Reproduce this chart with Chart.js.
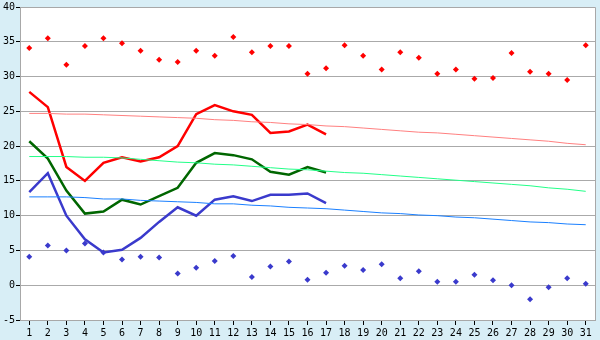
<!DOCTYPE html>
<html>
<head>
<meta charset="utf-8">
<script src="https://cdn.jsdelivr.net/npm/chart.js@4/dist/chart.umd.min.js"></script>
<style>
html,body{margin:0;padding:0;background:#d8eef6;}
#wrap{width:600px;height:340px;position:relative;}
</style>
</head>
<body>
<div id="wrap"><canvas id="c" width="600" height="340"></canvas></div>
<script>
const days = ["1","2","3","4","5","6","7","8","9","10","11","12","13","14","15","16","17","18","19","20","21","22","23","24","25","26","27","28","29","30","31"];
const yTicks = [-5,0,5,10,15,20,25,30,35,40];

const recordMax = [34.1,35.5,31.7,34.4,35.5,34.8,33.7,32.4,32.1,33.7,33.0,35.7,33.5,34.4,34.4,30.4,31.2,34.5,33.0,31.0,33.5,32.7,30.4,31.0,29.7,29.8,33.4,30.7,30.4,29.5,34.5];
const recordMin = [4.1,5.7,5.0,6.0,4.7,3.7,4.1,4.0,1.7,2.5,3.5,4.2,1.2,2.7,3.4,0.8,1.8,2.8,2.2,3.0,1.0,2.0,0.5,0.5,1.5,0.7,0.0,-2.0,-0.3,1.0,0.2];

const tMax = [27.8,25.6,17.0,15.0,17.6,18.4,17.8,18.4,20.0,24.6,25.9,25.0,24.5,21.9,22.1,23.1,21.7];
const tAvg = [20.7,18.2,13.6,10.3,10.6,12.3,11.6,12.8,14.0,17.6,19.0,18.7,18.1,16.3,15.9,17.0,16.2];
const tMin = [13.4,16.1,10.0,6.6,4.7,5.1,6.8,9.1,11.2,10.0,12.3,12.8,12.1,13.0,13.0,13.2,11.8];

const normMax = [24.7,24.7,24.6,24.6,24.5,24.4,24.3,24.2,24.1,24.0,23.8,23.7,23.5,23.4,23.2,23.1,22.9,22.8,22.6,22.4,22.2,22.0,21.9,21.7,21.5,21.3,21.1,20.9,20.7,20.4,20.2];
const normAvg = [18.5,18.5,18.5,18.4,18.4,18.3,18.1,17.9,17.7,17.6,17.4,17.3,17.1,16.9,16.7,16.6,16.4,16.2,16.1,15.9,15.7,15.5,15.3,15.1,14.9,14.7,14.5,14.3,14.0,13.8,13.5];
const normMin = [12.7,12.7,12.7,12.6,12.4,12.4,12.2,12.1,12.0,11.9,11.7,11.7,11.5,11.4,11.2,11.1,11.0,10.8,10.6,10.4,10.3,10.1,10.0,9.8,9.7,9.5,9.3,9.1,9.0,8.8,8.7];

const pad = arr => days.map((d,i)=> i < arr.length ? arr[i] : null);

const areaPlugin = {
  id:'area',
  beforeDraw(chart){
    const {ctx, chartArea:a} = chart;
    ctx.save();
    ctx.fillStyle = '#d8eef6';
    ctx.fillRect(0,0,chart.width,chart.height);
    ctx.fillStyle = '#ffffff';
    ctx.fillRect(a.left,a.top,a.right-a.left,a.bottom-a.top);
    ctx.restore();
  },
  afterDatasetsDraw(chart){
    const {ctx, chartArea:a} = chart;
    ctx.save();
    ctx.strokeStyle = '#a8a8a8';
    ctx.lineWidth = 1;
    ctx.beginPath();
    ctx.moveTo(a.left, a.top+0.5);
    ctx.lineTo(a.right+0.5, a.top+0.5);
    ctx.lineTo(a.right+0.5, a.bottom);
    ctx.stroke();
    ctx.restore();
  }
};

const lineDs = (label, data, color, width) => ({
  type:'line', label, data, borderColor:color, backgroundColor:color,
  borderWidth:width, pointRadius:0, tension:0, fill:false, spanGaps:false
});
const ptDs = (label, data, color) => ({
  type:'line', label, data, showLine:false, borderColor:color, backgroundColor:color,
  pointStyle:'rectRot', pointRadius:3, pointBorderWidth:0, pointHoverRadius:3
});

new Chart(document.getElementById('c'), {
  type:'line',
  data:{
    labels: days,
    datasets:[
      lineDs('Normal max', normMax, '#ff8080', 1),
      lineDs('Normal avg', normAvg, '#22ff88', 1),
      lineDs('Normal min', normMin, '#1a80ff', 1),
      lineDs('Max', pad(tMax), '#ff0000', 2.5),
      lineDs('Avg', pad(tAvg), '#006600', 2.5),
      lineDs('Min', pad(tMin), '#3a3acc', 2.5),
      ptDs('Record max', recordMax, '#ff0000'),
      ptDs('Record min', recordMin, '#3a3acc')
    ]
  },
  options:{
    responsive:false,
    animation:false,
    devicePixelRatio:1,
    layout:{padding:{top:5,right:5,left:0,bottom:0}},
    plugins:{legend:{display:false}, tooltip:{enabled:false}},
    scales:{
      x:{
        offset:true,
        grid:{display:true, drawOnChartArea:false, offset:false, tickLength:5, color:'#000000', tickColor:'#000000'},
        border:{display:true, color:'#a8a8a8'},
        ticks:{color:'#000', font:{family:'DejaVu Sans Mono', size:10}, padding:2, maxRotation:0, autoSkip:false},
        afterFit(s){ s.height = 20; }
      },
      y:{
        min:-5, max:40,
        afterBuildTicks(s){ s.ticks = yTicks.map(v=>({value:v})); },
        grid:{color:'#aaaaaa', tickLength:4, tickColor:'#000000', drawTicks:true},
        border:{display:true, color:'#a8a8a8'},
        ticks:{color:'#000', font:{family:'DejaVu Sans Mono', size:10}, padding:1},
        afterFit(s){ s.width = 20; }
      }
    }
  },
  plugins:[areaPlugin]
});
</script>
</body>
</html>
